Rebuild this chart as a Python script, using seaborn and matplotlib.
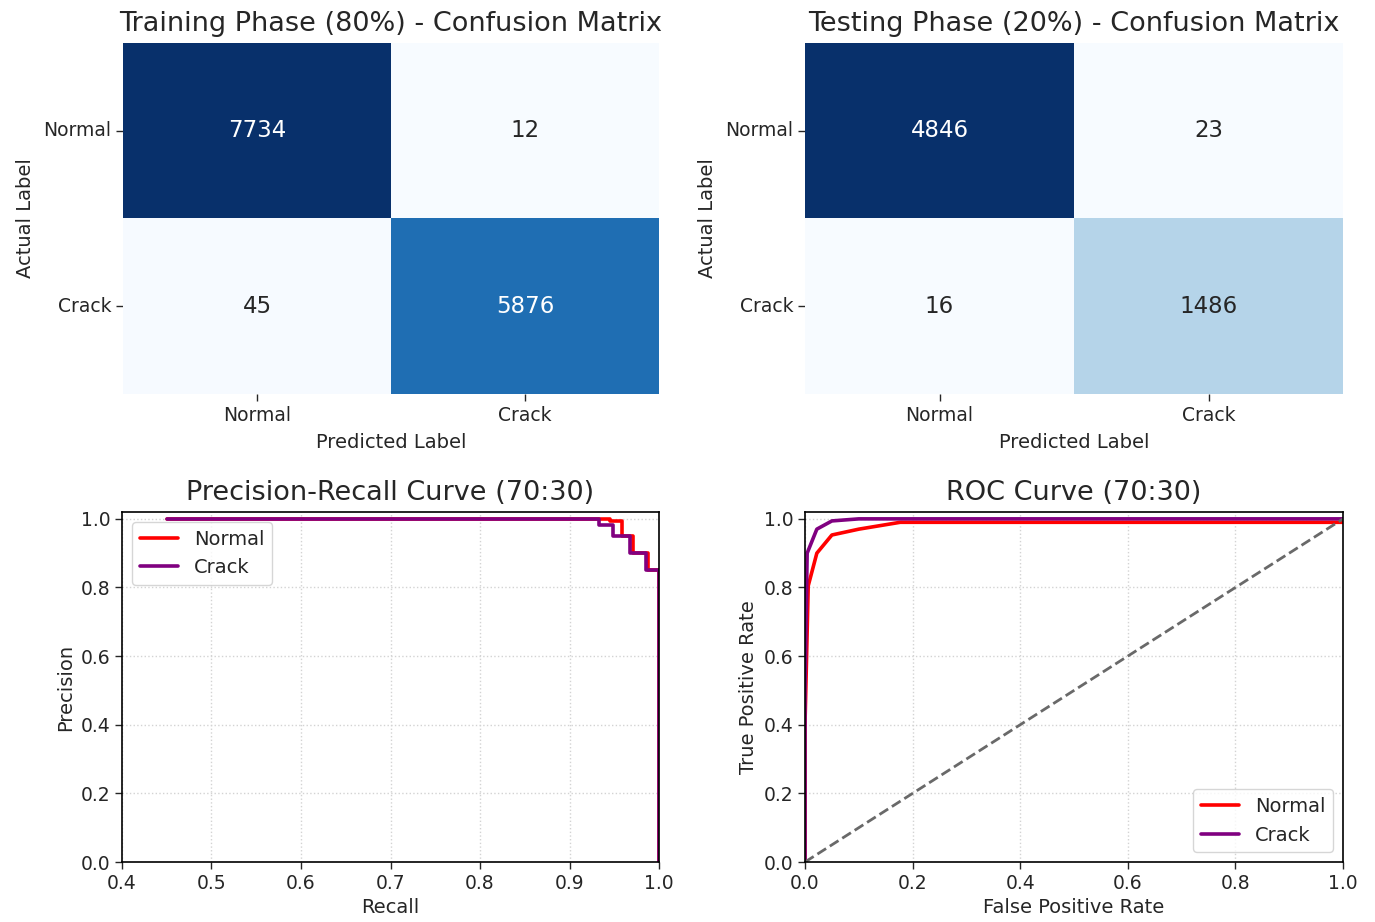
import numpy as np
import pandas as pd
import matplotlib
matplotlib.use("Agg")
import matplotlib.pyplot as plt
import seaborn as sns

classes = ["Normal", "Crack"]
train_cm = [[7734, 12], [45, 5876]]
test_cm = [[4846, 23], [16, 1486]]

# Precision-Recall curves (step points)
pr_normal_recall = [0.45, 0.945, 0.945, 0.959, 0.959, 0.971, 0.971, 0.988, 0.988, 1.0, 1.0]
pr_normal_precision = [1.0, 1.0, 0.994, 0.994, 0.95, 0.95, 0.90, 0.90, 0.85, 0.85, 0.0]
pr_crack_recall = [0.45, 0.933, 0.933, 0.949, 0.949, 0.968, 0.968, 0.986, 0.986, 1.0, 1.0]
pr_crack_precision = [1.0, 1.0, 0.983, 0.983, 0.95, 0.95, 0.90, 0.90, 0.85, 0.85, 0.0]

# ROC curves
roc_normal_fpr = [0.0, 0.0, 0.006, 0.022, 0.05, 0.10, 0.177, 1.0, 1.0]
roc_normal_tpr = [0.0, 0.40, 0.805, 0.90, 0.953, 0.97, 0.99, 0.99, 1.0]
roc_crack_fpr = [0.0, 0.0, 0.004, 0.022, 0.05, 0.10, 1.0]
roc_crack_tpr = [0.0, 0.50, 0.90, 0.97, 0.994, 1.0, 1.0]

sns.set_style("white")
plt.rcParams['font.family'] = ['DejaVu Sans']

fig = plt.figure(figsize=(13.75, 9.22), dpi=100)
W, H = 1375, 922
def box(x0, y0, x1, y1):
    return [x0 / W, 1 - y1 / H, (x1 - x0) / W, (y1 - y0) / H]

ax1 = fig.add_axes(box(123, 43, 659, 394))
ax2 = fig.add_axes(box(805, 43, 1343, 394))
ax3 = fig.add_axes(box(122, 512, 659, 862))
ax4 = fig.add_axes(box(805, 512, 1343, 862))

title_fs = 19.5
label_fs = 14
tick_fs = 13.5

for ax, cm, title in [(ax1, train_cm, "Training Phase (80%) - Confusion Matrix"),
                      (ax2, test_cm, "Testing Phase (20%) - Confusion Matrix")]:
    df = pd.DataFrame(cm, index=classes, columns=classes)
    sns.heatmap(df, annot=True, fmt="d", cmap="Blues", cbar=False, ax=ax,
                annot_kws={"fontsize": 16.5})
    ax.set_title(title, fontsize=title_fs, pad=8.5)
    ax.set_xlabel("Predicted Label", fontsize=label_fs, labelpad=6)
    ax.set_ylabel("Actual Label", fontsize=label_fs, labelpad=6)
    ax.tick_params(axis="both", labelsize=tick_fs, length=5, width=1, left=True, bottom=True)
    ax.set_yticklabels(ax.get_yticklabels(), rotation=0)
    ax.set_xticklabels(ax.get_xticklabels(), rotation=0)

pr_df = pd.concat([
    pd.DataFrame({"Recall": pr_normal_recall, "Precision": pr_normal_precision, "Class": "Normal"}),
    pd.DataFrame({"Recall": pr_crack_recall, "Precision": pr_crack_precision, "Class": "Crack"}),
])
roc_df = pd.concat([
    pd.DataFrame({"FPR": roc_normal_fpr, "TPR": roc_normal_tpr, "Class": "Normal"}),
    pd.DataFrame({"FPR": roc_crack_fpr, "TPR": roc_crack_tpr, "Class": "Crack"}),
])
palette = {"Normal": "red", "Crack": "purple"}

sns.lineplot(data=pr_df, x="Recall", y="Precision", hue="Class", palette=palette,
             sort=False, estimator=None, lw=2.6, ax=ax3)
ax3.set_xlim(0.4, 1.0)
ax3.set_ylim(0.0, 1.02)
ax3.set_title("Precision-Recall Curve (70:30)", fontsize=title_fs, pad=9)
ax3.set_xlabel("Recall", fontsize=label_fs)
ax3.set_ylabel("Precision", fontsize=label_fs)
ax3.legend(loc="upper left", fontsize=14, title=None)

sns.lineplot(data=roc_df, x="FPR", y="TPR", hue="Class", palette=palette,
             sort=False, estimator=None, lw=2.6, ax=ax4)
ax4.plot([0, 1], [0, 1], linestyle="--", color="dimgray", lw=2)
ax4.set_xlim(0.0, 1.0)
ax4.set_ylim(0.0, 1.02)
ax4.set_title("ROC Curve (70:30)", fontsize=title_fs, pad=9)
ax4.set_xlabel("False Positive Rate", fontsize=label_fs)
ax4.set_ylabel("True Positive Rate", fontsize=label_fs)
ax4.legend(loc="lower right", fontsize=14, title=None)

for ax in (ax3, ax4):
    ax.grid(True, linestyle=":", color="lightgray", lw=1)
    ax.tick_params(axis="both", labelsize=tick_fs, length=5, width=1, left=True, bottom=True)
    for s in ax.spines.values():
        s.set_color("black")
        s.set_linewidth(1.2)

fig.savefig("out.png", dpi=100)
